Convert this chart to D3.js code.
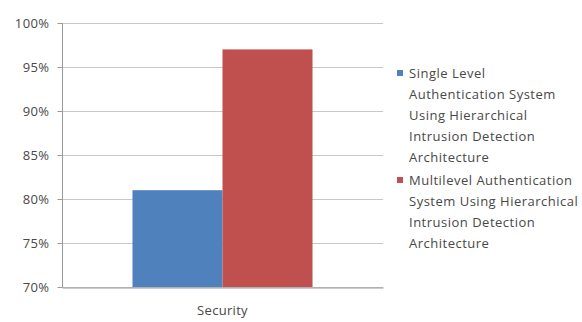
<!DOCTYPE html>
<html><head><meta charset="utf-8">
<script src="https://cdn.jsdelivr.net/npm/d3@7"></script>
<style>body{margin:0;background:#fff}svg{display:block}</style>
</head><body>
<svg id="c" width="582" height="322"></svg>
<script>
const categories = ["Security"];
const seriesNames = [
  "Single Level Authentication System Using Hierarchical Intrusion Detection Architecture",
  "Multilevel Authentication System Using Hierarchical Intrusion Detection Architecture"
];
const legendLines = [
  ["Single Level", "Authentication System", "Using Hierarchical", "Intrusion Detection", "Architecture"],
  ["Multilevel Authentication", "System Using Hierarchical", "Intrusion Detection", "Architecture"]
];
const singleValues = [0.81];
const multiValues = [0.97];
const yTicks = [0.70, 0.75, 0.80, 0.85, 0.90, 0.95, 1.00];
const colors = ["#4F81BD", "#C0504D"];

const svg = d3.select("#c");
const m = {left: 62, right: 383, top: 23, bottom: 287};
const font = "'Open Sans', sans-serif";
const txt = "#484848";

const y = d3.scaleLinear().domain([0.70, 1.00]).range([m.bottom, m.top]);
const x0 = d3.scaleBand().domain(categories).range([m.left, m.right]);
const x1 = d3.scaleBand().domain(seriesNames).range([0, x0.bandwidth()]).paddingInner(0).paddingOuter(0.783);

// gridlines
svg.append("g").selectAll("line").data(yTicks).join("line")
  .attr("x1", m.left).attr("x2", m.right)
  .attr("y1", d => Math.round(y(d)) + 0.5).attr("y2", d => Math.round(y(d)) + 0.5)
  .attr("stroke", "#c8c8c8").attr("stroke-width", 1);

// bars
const data = categories.map((c, i) => ({cat: c, vals: [singleValues[i], multiValues[i]]}));
const g = svg.append("g").selectAll("g").data(data).join("g")
  .attr("transform", d => `translate(${x0(d.cat)},0)`);
g.selectAll("rect").data(d => d.vals.map((v, j) => ({s: seriesNames[j], v, j}))).join("rect")
  .attr("x", d => x1(d.s)).attr("width", x1.bandwidth())
  .attr("y", d => y(d.v)).attr("height", d => y(0.70) - y(d.v))
  .attr("fill", d => colors[d.j]);

// y axis
const yAxis = d3.axisLeft(y).tickValues(yTicks).tickFormat(d3.format(".0%")).tickSize(5).tickPadding(8);
const ya = svg.append("g").attr("transform", `translate(${m.left + 0.5},0)`).call(yAxis);
ya.select(".domain").attr("stroke", "#9a9a9a").attr("d", `M0,${m.top}V${m.bottom}`);
ya.selectAll(".tick line").attr("stroke", "#9a9a9a");
ya.selectAll(".tick").attr("transform", d => `translate(0,${Math.round(y(d)) + 0.5})`);
ya.selectAll("text").attr("font-family", font).attr("font-size", 13).attr("fill", txt).attr("letter-spacing", 0.4);

// x axis
const xAxis = d3.axisBottom(x0).tickSize(0).tickPadding(18);
const xa = svg.append("g").attr("transform", `translate(0,${m.bottom + 0.5})`).call(xAxis);
xa.select(".domain").attr("stroke", "#9a9a9a");
xa.selectAll("text").attr("font-family", font).attr("font-size", 13).attr("fill", txt).attr("letter-spacing", 0.3);

// legend
const legY = [73, 180];
legendLines.forEach((lines, i) => {
  const lg = svg.append("g");
  lg.append("rect").attr("x", 397).attr("y", legY[i] - 3).attr("width", 6).attr("height", 6).attr("fill", colors[i]);
  lg.append("text").attr("font-family", font).attr("font-size", 13).attr("fill", txt).attr("letter-spacing", 0.5)
    .selectAll("tspan").data(lines).join("tspan")
    .attr("x", 409).attr("y", (d, k) => legY[i] + 5 + k * 21).text(d => d);
});
</script>
</body></html>
